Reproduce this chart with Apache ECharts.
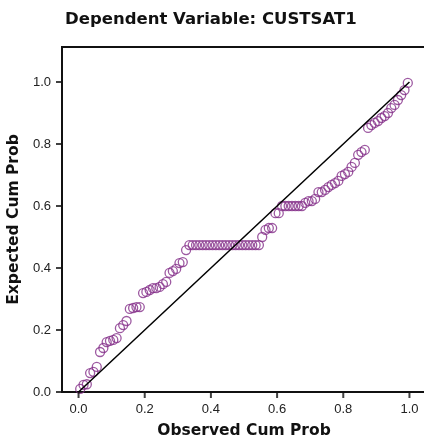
<!DOCTYPE html>
<html lang="en">
<head>
    <meta charset="UTF-8">
    <title>P-P Plot</title>
    <script src="https://cdn.jsdelivr.net/npm/echarts@6/dist/echarts.min.js"></script>
    <style>
        html, body { margin: 0; padding: 0; background: #fff; }
        #main { width: 424px; height: 444px; }
    </style>
</head>
<body>
<div id="main"></div>
<script type="text/javascript">
    // observed cumulative probability (x) for each case
    var observed = [
        0.005, 0.015, 0.025, 0.035, 0.045, 0.055, 0.065, 0.075, 0.085, 0.095,
        0.105, 0.115, 0.125, 0.135, 0.145, 0.155, 0.165, 0.175, 0.185, 0.195,
        0.205, 0.215, 0.225, 0.235, 0.245, 0.255, 0.265, 0.275, 0.285, 0.295,
        0.305, 0.315, 0.325, 0.335, 0.345, 0.355, 0.365, 0.375, 0.385, 0.395,
        0.405, 0.415, 0.425, 0.435, 0.445, 0.455, 0.465, 0.475, 0.485, 0.495,
        0.505, 0.515, 0.525, 0.535, 0.545, 0.555, 0.565, 0.575, 0.585, 0.595,
        0.605, 0.615, 0.625, 0.635, 0.645, 0.655, 0.665, 0.675, 0.685, 0.695,
        0.705, 0.715, 0.725, 0.735, 0.745, 0.755, 0.765, 0.775, 0.785, 0.795,
        0.805, 0.815, 0.825, 0.835, 0.845, 0.855, 0.865, 0.875, 0.885, 0.895,
        0.905, 0.915, 0.925, 0.935, 0.945, 0.955, 0.965, 0.975, 0.985, 0.995
    ];
    // expected cumulative probability (y)
    var expected = [
        0.010, 0.023, 0.025, 0.061, 0.065, 0.081, 0.129, 0.142, 0.161, 0.165,
        0.168, 0.174, 0.206, 0.216, 0.229, 0.268, 0.271, 0.274, 0.274, 0.319,
        0.323, 0.329, 0.335, 0.335, 0.339, 0.348, 0.355, 0.384, 0.390, 0.397,
        0.416, 0.419, 0.458, 0.474, 0.474, 0.474, 0.474, 0.474, 0.474, 0.474,
        0.474, 0.474, 0.474, 0.474, 0.474, 0.474, 0.474, 0.474, 0.474, 0.474,
        0.474, 0.474, 0.474, 0.474, 0.474, 0.500, 0.523, 0.529, 0.529, 0.577,
        0.577, 0.600, 0.600, 0.600, 0.600, 0.600, 0.600, 0.600, 0.610, 0.616,
        0.616, 0.623, 0.645, 0.645, 0.652, 0.661, 0.668, 0.674, 0.681, 0.697,
        0.703, 0.710, 0.726, 0.739, 0.765, 0.774, 0.781, 0.852, 0.861, 0.868,
        0.874, 0.884, 0.890, 0.900, 0.916, 0.926, 0.942, 0.958, 0.974, 0.997
    ];
    // reference diagonal
    var diagonal = [[0, 0], [1, 1]];
    var tickValues = [0, 0.2, 0.4, 0.6, 0.8, 1.0];
    var xMin = -0.05, xMax = 1.05, yMin = 0, yMax = 1.113;

    var points = [];
    for (var i = 0; i < observed.length; i++) {
        points.push([observed[i], expected[i]]);
    }
    // tick marks, drawn as small bars at the axis edges
    var xTicks = [], yTicks = [];
    for (var j = 0; j < tickValues.length; j++) {
        xTicks.push([tickValues[j], yMin]);
        yTicks.push([xMin, tickValues[j]]);
    }

    var myChart = echarts.init(document.getElementById('main'));
    var labelFont = '"Liberation Sans", Arial, Helvetica, sans-serif';
    var boldFont = '"DejaVu Sans", "Liberation Sans", Arial, sans-serif';
    var labelFormatter = function (v) { return v.toFixed(1); };
    var ink = '#111';

    var option = {
        animation: false,
        title: {
            text: 'Dependent Variable: CUSTSAT1',
            left: 60,
            top: 6,
            textStyle: {
                fontFamily: boldFont,
                fontSize: 16.5,
                fontWeight: 'bold',
                color: ink
            }
        },
        grid: {
            left: 62,
            top: 47,
            width: 364,
            height: 345,
            outerBoundsMode: 'none',
            show: true,
            borderColor: ink,
            borderWidth: 2,
            backgroundColor: 'rgba(0,0,0,0)'
        },
        xAxis: {
            type: 'value',
            min: xMin,
            max: xMax,
            name: 'Observed Cum Prob',
            nameLocation: 'middle',
            nameGap: 31,
            nameTextStyle: {
                fontFamily: boldFont,
                fontSize: 15.5,
                fontWeight: 'bold',
                color: ink
            },
            axisLine: {show: true, lineStyle: {color: ink, width: 2}},
            axisTick: {show: false},
            axisLabel: {
                customValues: tickValues,
                margin: 11,
                fontFamily: labelFont,
                fontSize: 13,
                color: '#222',
                formatter: labelFormatter
            },
            splitLine: {show: false}
        },
        yAxis: {
            type: 'value',
            min: yMin,
            max: yMax,
            name: 'Expected Cum Prob',
            nameLocation: 'middle',
            nameGap: 33,
            nameTextStyle: {
                fontFamily: boldFont,
                fontSize: 15.5,
                fontWeight: 'bold',
                color: ink
            },
            axisLine: {show: false},
            axisTick: {show: false},
            axisLabel: {
                customValues: tickValues,
                margin: 11,
                fontFamily: labelFont,
                fontSize: 13,
                color: '#222',
                formatter: labelFormatter
            },
            splitLine: {show: false}
        },
        series: [
            {
                type: 'line',
                data: diagonal,
                showSymbol: false,
                symbol: 'none',
                clip: false,
                lineStyle: {color: '#000', width: 1.5},
                z: 3,
                // left frame line at the axis minimum
                markLine: {
                    silent: true,
                    symbol: 'none',
                    label: {show: false},
                    lineStyle: {color: ink, width: 2, type: 'solid'},
                    data: [{xAxis: xMin}],
                    z: 10
                }
            },
            {
                type: 'scatter',
                data: points,
                symbol: 'circle',
                symbolSize: 9,
                itemStyle: {
                    color: 'rgba(0,0,0,0)',
                    borderColor: '#84308a',
                    borderWidth: 1.3
                },
                z: 2
            },
            {
                type: 'scatter',
                data: xTicks,
                symbol: 'rect',
                symbolSize: [2, 6],
                symbolOffset: [0, 3],
                clip: false,
                silent: true,
                itemStyle: {color: ink},
                z: 10
            },
            {
                type: 'scatter',
                data: yTicks,
                symbol: 'rect',
                symbolSize: [6, 2],
                symbolOffset: [-3, 0],
                clip: false,
                silent: true,
                itemStyle: {color: ink},
                z: 10
            }
        ]
    };
    myChart.setOption(option);
</script>
</body>
</html>
